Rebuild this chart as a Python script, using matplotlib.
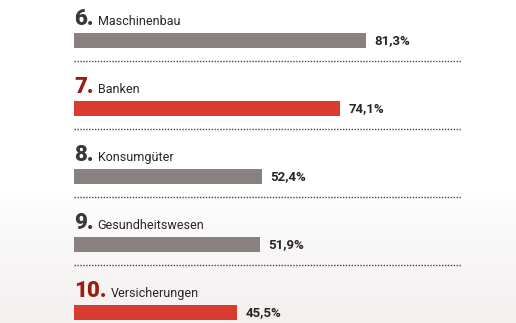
import matplotlib
matplotlib.use("Agg")
import matplotlib.pyplot as plt
import numpy as np

# data
ranks = ["6.", "7.", "8.", "9.", "10."]
branchen = ["Maschinenbau", "Banken", "Konsumgüter", "Gesundheitswesen", "Versicherungen"]
werte = [81.3, 74.1, 52.4, 51.9, 45.5]
hervorgehoben = [False, True, False, False, True]

GRAU = "#888180"
ROT = "#da3b2f"
DUNKELROT = "#9a1c12"
DUNKELGRAU = "#3b3737"
TEXT = "#2a2525"

plt.rcParams["font.family"] = ["Roboto", "DejaVu Sans"]

W, H = 516, 323
fig = plt.figure(figsize=(W / 100, H / 100), dpi=100)
ax = fig.add_axes([0, 0, 1, 1])

px_per_pct = 3.59
x0 = 74
row_px = 68
first_px = 40.5
ax.set_xlim(-x0 / px_per_pct, (W - x0) / px_per_pct)
ax.set_ylim((H - first_px) / row_px, -first_px / row_px)
ax.axis("off")

# light background shading towards the bottom
t = np.clip((np.linspace(0, 1, 200) - 0.6) / 0.4, 0, 1) ** 0.7
base = np.array([0xf3, 0xf1, 0xf0]) / 255
grad = (1 - t)[:, None, None] * np.ones(3) + t[:, None, None] * base
grad = np.repeat(grad, 2, axis=1)
ax.imshow(grad, extent=[0, 1, 0, 1], transform=ax.transAxes, aspect="auto", zorder=0)

y = np.arange(len(werte))
farben = [ROT if h else GRAU for h in hervorgehoben]
ax.barh(y, werte, height=15 / row_px, color=farben, zorder=2)

for i, (r, b, v, h) in enumerate(zip(ranks, branchen, werte, hervorgehoben)):
    base_y = i - 15.5 / row_px
    num = ax.text(0, base_y, r, fontsize=16, fontweight="black",
                  color=DUNKELROT if h else DUNKELGRAU, va="baseline", ha="left", zorder=3)
    ax.annotate(b, xy=(1, base_y), xycoords=(num, "data"), xytext=(3, 0),
                textcoords="offset points", fontsize=9, color=TEXT,
                va="baseline", ha="left", zorder=3)
    ax.annotate(f"{v:.1f}%".replace(".", ","), xy=(v, i), xytext=(6, 0),
                textcoords="offset points", fontsize=9.5, fontweight="bold",
                color=TEXT, va="center", ha="left", zorder=3)
    if i < len(werte) - 1:
        ax.plot([0, 107.8], [i + 20.5 / row_px] * 2, color="#4a4444",
                linewidth=1, linestyle=(0, (1, 1.1)), zorder=2)

fig.savefig("out.png", dpi=100)
